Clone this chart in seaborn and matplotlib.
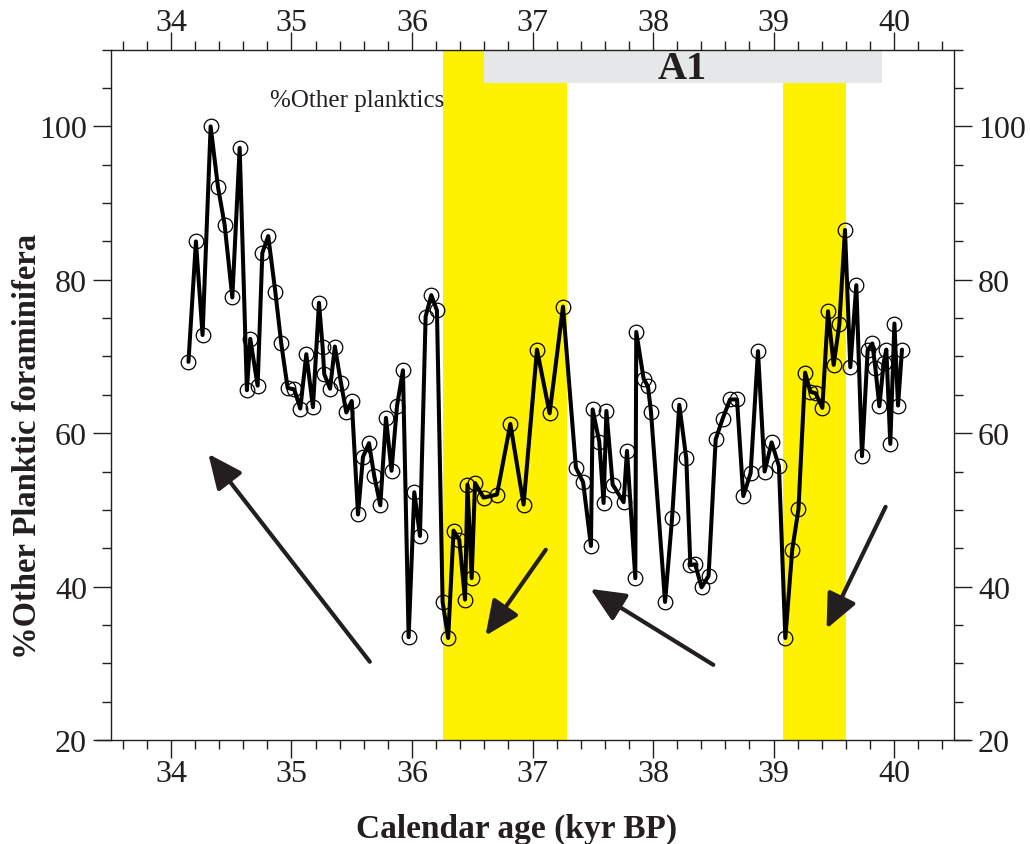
import matplotlib
matplotlib.use("Agg")
import matplotlib.pyplot as plt
from matplotlib.ticker import MultipleLocator
import seaborn as sns
import pandas as pd

# Calendar age (kyr BP) and % other planktic foraminifera
age = [34.145, 34.207, 34.262, 34.329, 34.390, 34.445, 34.509, 34.570, 34.630, 34.658,
       34.719, 34.758, 34.807, 34.866, 34.915, 34.968, 35.023, 35.073, 35.123, 35.178,
       35.228, 35.258, 35.272, 35.320, 35.360, 35.410, 35.455, 35.500, 35.552, 35.593,
       35.643, 35.687, 35.737, 35.784, 35.830, 35.876, 35.925, 35.972, 36.019, 36.066,
       36.113, 36.160, 36.207, 36.254, 36.300, 36.345, 36.392, 36.440, 36.460, 36.495,
       36.523, 36.594, 36.705, 36.816, 36.926, 37.037, 37.142, 37.253, 37.360, 37.420,
       37.485, 37.499, 37.554, 37.590, 37.613, 37.665, 37.756, 37.784, 37.853, 37.861,
       37.922, 37.958, 37.983, 38.100, 38.158, 38.218, 38.276, 38.310, 38.350, 38.403,
       38.461, 38.520, 38.578, 38.639, 38.697, 38.749, 38.810, 38.871, 38.926, 38.984,
       39.045, 39.098, 39.155, 39.207, 39.262, 39.305, 39.350, 39.405, 39.452, 39.499,
       39.546, 39.593, 39.637, 39.687, 39.734, 39.781, 39.820, 39.845, 39.878, 39.914,
       39.936, 39.969, 40.003, 40.033, 40.066]
other_pct = [69.3, 85.0, 72.8, 100.0, 92.1, 87.2, 77.7, 97.2, 65.6, 72.3,
             66.2, 83.5, 85.7, 78.4, 71.7, 65.9, 65.7, 63.2, 70.3, 63.4,
             77.0, 71.3, 67.7, 65.8, 71.3, 66.6, 62.7, 64.2, 49.4, 56.9,
             58.7, 54.4, 50.6, 62.0, 55.1, 63.6, 68.2, 33.4, 52.3, 46.6,
             75.2, 78.0, 76.0, 38.0, 33.3, 47.3, 46.1, 38.3, 53.3, 41.1,
             53.5, 51.6, 52.0, 61.2, 50.7, 70.9, 62.6, 76.5, 55.5, 53.6,
             45.3, 63.1, 58.9, 50.9, 62.9, 53.3, 51.0, 57.7, 41.1, 73.2,
             67.1, 66.1, 62.8, 38.0, 48.9, 63.7, 56.7, 42.8, 42.9, 39.9,
             41.4, 59.2, 61.9, 64.4, 64.4, 51.8, 54.8, 70.7, 55.0, 58.8,
             55.7, 33.3, 44.8, 50.1, 67.9, 65.4, 65.2, 63.3, 75.9, 68.9,
             74.2, 86.5, 68.6, 79.3, 57.0, 70.8, 71.7, 68.5, 63.5, 69.2,
             70.9, 58.6, 74.3, 63.6, 70.9]

# Highlighted intervals (kyr BP) and the A1 bar
yellow_bands = [(36.26, 37.29), (39.08, 39.60)]
a1_span = (36.60, 39.90)
a1_bottom = 105.7

# Trend arrows: (start age, start %, end age, end %)
arrows = [(35.65, 30.2, 34.31, 57.3),
          (37.11, 44.8, 36.61, 33.6),
          (38.50, 29.8, 37.48, 39.7),
          (39.93, 50.4, 39.44, 34.5)]

sns.set_style("ticks")
plt.rcParams["font.family"] = ["Liberation Serif", "DejaVu Serif"]

fig = plt.figure(figsize=(10.30, 8.45), dpi=100)
ax = fig.add_axes([0.1075, 0.1231, 0.819, 0.8169])

XMIN, XMAX, YMIN, YMAX = 33.5, 40.5, 20, 110

for lo, hi in yellow_bands:
    ax.axvspan(lo, hi, color="#fff200", lw=0, zorder=0)
ax.axvspan(a1_span[0], a1_span[1], ymin=(a1_bottom - YMIN) / (YMAX - YMIN), ymax=1,
           color="#e6e7e8", lw=0, zorder=1)
ax.text(sum(a1_span) / 2 - 0.01, (a1_bottom + YMAX) / 2 - 0.3, "A1", ha="center",
        va="center", fontsize=29, fontweight="bold", color="#231f20", zorder=2)

df = pd.DataFrame({"age": age, "pct": other_pct})
sns.lineplot(data=df, x="age", y="pct", ax=ax, color="black", lw=2.9, sort=False,
             marker="o", markersize=10.5, markerfacecolor="none",
             markeredgecolor="black", markeredgewidth=0.9, zorder=3)

for x0, y0, x1, y1 in arrows:
    ax.annotate("", xy=(x1, y1), xytext=(x0, y0),
                arrowprops=dict(arrowstyle="-|>,head_length=1.0,head_width=0.45",
                                mutation_scale=21, lw=3, color="#231f20",
                                shrinkA=0, shrinkB=0), zorder=4)

ax.text(34.82, 103.5, "%Other planktics", fontsize=18, ha="left", va="center",
        color="#231f20")

ax.set_xlim(XMIN, XMAX)
ax.set_ylim(YMIN, YMAX)
ax.xaxis.set_major_locator(MultipleLocator(1))
ax.xaxis.set_minor_locator(MultipleLocator(0.2))
ax.yaxis.set_major_locator(MultipleLocator(20))
ax.yaxis.set_minor_locator(MultipleLocator(5))
ax.set_yticks([20, 40, 60, 80, 100])
ax.tick_params(which="both", direction="out", top=True, right=True,
               labeltop=True, labelright=True, colors="#231f20", width=1.0)
ax.tick_params(which="major", length=13, labelsize=23)
ax.tick_params(axis="x", which="major", pad=1)
ax.tick_params(axis="y", which="major", pad=4)
ax.tick_params(which="minor", length=6.5)

for s in ax.spines.values():
    s.set_linewidth(1.0)
    s.set_color("#231f20")
ax.spines["bottom"].set_bounds(33.39, 40.62)

ax.set_xlabel("Calendar age (kyr BP)", fontsize=24, fontweight="bold",
              color="#231f20")
ax.set_ylabel("%Other Planktic foraminifera", fontsize=23.5, fontweight="bold",
              color="#231f20")
ax.xaxis.set_label_coords(0.4816, -0.106)
ax.yaxis.set_label_coords(-0.0805, 0.426)
ax.grid(False)

# Top-axis numbers sit on their baseline just above the ticks
fig.canvas.draw()
for t in ax.xaxis.get_major_ticks():
    t.label2.set_verticalalignment("baseline")

fig.savefig("out.png", dpi=100)
